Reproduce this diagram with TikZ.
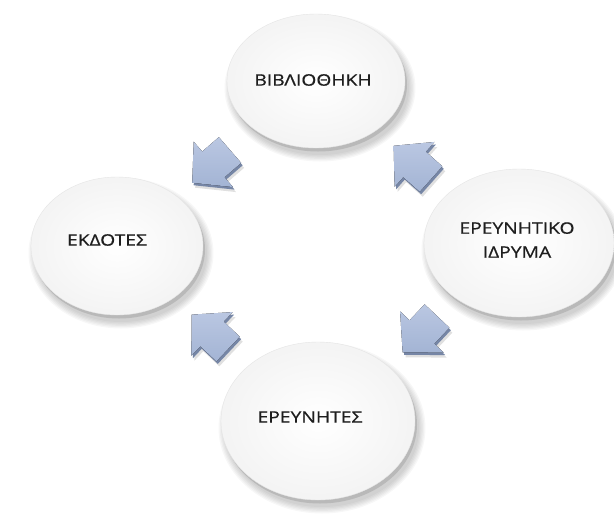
\documentclass[tikz,border=0pt]{standalone}
\usepackage{fontspec}
\setmainfont{Open Sans}
\newfontfamily\lblfont[FakeStretch=1.22,FakeBold=0.6]{Open Sans}
\usetikzlibrary{shapes.geometric}
\definecolor{arrowfill}{RGB}{163,180,212}
\definecolor{arrowlight}{RGB}{186,199,226}
\definecolor{arrowdark}{RGB}{118,134,166}
\definecolor{txtcol}{RGB}{30,30,30}
\tikzset{
  bubble/.style={ellipse, draw=gray!20, line width=0.4pt, inner color=white, outer color=gray!9},
  lbl/.style={text=txtcol, font=\lblfont\fontsize{15.8}{24}\selectfont, align=center, inner sep=0pt},
}
\newcommand\bubbleshadow[4]{%
  \foreach \k in {0,...,5}{
    \fill[black, opacity=0.03] (#1+4,#2+7) ellipse ({#3+\k*1.3} and {#4+\k*1.3});
  }
  \fill[gray!55] (#1+2,#2+3.5) ellipse ({#3} and {#4});
}
\newcommand\blockarrow[3]{%
  \fill[black, opacity=0.12, shift={(#1+3,#2+5)}, rotate=#3]
    (0,-17) -- (22,-17) -- (22,-30) -- (50,0) -- (22,30) -- (22,17) -- (0,17) -- cycle;
  \fill[arrowdark, shift={(#1+1.5,#2+2.5)}, rotate=#3]
    (0,-17) -- (22,-17) -- (22,-30) -- (50,0) -- (22,30) -- (22,17) -- (0,17) -- cycle;
  \fill[top color=arrowlight, bottom color=arrowfill, shift={(#1,#2)}, rotate=#3]
    (0,-17) -- (22,-17) -- (22,-30) -- (50,0) -- (22,30) -- (22,17) -- (0,17) -- cycle;
}
\begin{document}
\begin{tikzpicture}[x=1pt,y=-1pt]
\useasboundingbox (0,0) rectangle (614,515);
\fill[white] (0,0) rectangle (614,515);

% shadows / rims
\bubbleshadow{316}{81}{89}{67}
\bubbleshadow{117}{246}{86}{69}
\bubbleshadow{519}{243}{95}{74}
\bubbleshadow{318}{421}{97}{79}

% bubbles
\node[bubble, minimum width=178pt, minimum height=134pt] (lib) at (316,81) {};
\node[bubble, minimum width=172pt, minimum height=138pt] (pub) at (117,246) {};
\node[bubble, minimum width=190pt, minimum height=148pt] (inst) at (519,243) {};
\node[bubble, minimum width=194pt, minimum height=158pt] (res) at (318,421) {};

% labels
\node[lbl] (lib-t) at (313,80) {ΒΙΒΛΙΟΘΗΚΗ};
\node[lbl] (pub-t) at (107,240) {ΕΚΔΟΤΕΣ};
\node[lbl] (inst-t) at (517,240) {ΕΡΕΥΝΗΤΙΚΟ\\ΙΔΡΥΜΑ};
\node[lbl] (res-t) at (310,417) {ΕΡΕΥΝΗΤΕΣ};

% block arrows
\blockarrow{230}{150}{220.9}
\blockarrow{431}{179}{138.4}
\blockarrow{437}{316}{226.6}
\blockarrow{228}{349}{136.6}
\end{tikzpicture}
\end{document}
